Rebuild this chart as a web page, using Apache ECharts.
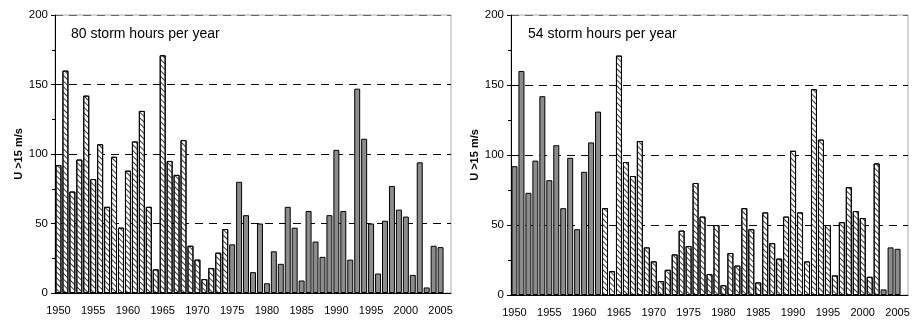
<!DOCTYPE html>
<html>
<head>
<meta charset="utf-8">
<script src="https://cdn.jsdelivr.net/npm/echarts@6/dist/echarts.min.js"></script>
<style>
html,body{margin:0;padding:0;background:#fff;}
#c{width:916px;height:320px;}
</style>
</head>
<body>
<div id="c"></div>
<script>
// Categories (last empty slot as in the original Excel chart)
const years = [1950,1951,1952,1953,1954,1955,1956,1957,1958,1959,
  1960,1961,1962,1963,1964,1965,1966,1967,1968,1969,
  1970,1971,1972,1973,1974,1975,1976,1977,1978,1979,
  1980,1981,1982,1983,1984,1985,1986,1987,1988,1989,
  1990,1991,1992,1993,1994,1995,1996,1997,1998,1999,
  2000,2001,2002,2003,2004,2005,''];
// Hours per year with U > 15 m/s
const stormHours = [92,160,73,96,142,82,107,62,98,47,
  88,109,131,62,17,171,95,85,110,34,
  24,10,18,29,46,35,80,56,15,50,
  7,30,21,62,47,9,59,37,26,56,
  103,59,24,147,111,50,14,52,77,60,
  55,13,94,4,34,33];
// Year ranges drawn hatched in each panel (the rest is solid grey)
const leftHatchedRanges = [[1950,1974]];
const rightHatchedRanges = [[1963,2002]];
const leftLabel = '80 storm hours per year';
const rightLabel = '54 storm hours per year';
const yTicks = [0,50,100,150,200];
const yTitle = 'U >15 m/s';

const FONT = '"Liberation Sans", Arial, sans-serif';
const GREY = '#8c8c8c';

function inRanges(y, ranges){ return ranges.some(r => y >= r[0] && y <= r[1]); }
function split(ranges){
  const h = [], g = [];
  years.forEach((y, i) => {
    if (y === '') { h.push(null); g.push(null); return; }
    const v = stormHours[i];
    if (inRanges(y, ranges)) { h.push(v); g.push(null); } else { h.push(null); g.push(v); }
  });
  return {h, g};
}
const L = split(leftHatchedRanges), R = split(rightHatchedRanges);

const hatchStyle = {
  color: '#fff', borderColor: '#000', borderWidth: 1,
  decal: { symbol: 'rect', symbolSize: 1, color: '#3a3a3a', dashArrayX: [1, 0], dashArrayY: [1, 2.6], rotation: Math.PI/4 }
};
const greyStyle = { color: GREY, borderColor: '#000', borderWidth: 1 };

function xAx(gi){
  return {
    type: 'category', gridIndex: gi, data: years, boundaryGap: true,
    axisLine: { lineStyle: { color: '#000', width: 1 } },
    axisTick: { interval: 4, length: 5, lineStyle: { color: '#000' } },
    axisLabel: { interval: 4, color: '#000', fontSize: 11, fontFamily: FONT, margin: 12 }
  };
}
function yAx(gi){
  return {
    type: 'value', gridIndex: gi, min: yTicks[0], max: yTicks[yTicks.length-1], interval: yTicks[1]-yTicks[0],
    name: yTitle, nameLocation: 'middle', nameGap: 25, nameRotate: 90,
    nameTextStyle: { fontWeight: 'bold', fontSize: 11, fontFamily: FONT, color: '#000' },
    axisLine: { show: true, lineStyle: { color: '#000', width: 1 } },
    axisTick: { show: true, length: 4, lineStyle: { color: '#000' } },
    minorTick: { show: true, splitNumber: 2, length: 3, lineStyle: { color: '#000' } },
    axisLabel: { color: '#000', fontSize: 11.5, fontFamily: FONT, margin: 7 },
    splitLine: { show: true, lineStyle: { color: ['#000','#000','#000','#000','#666'], type: [8,6], width: 1 } }
  };
}
function bar(gi, data, style){
  return { type: 'bar', xAxisIndex: gi, yAxisIndex: gi, data: data, barWidth: '86%', barGap: '-100%',
    itemStyle: style, silent: true, animation: false };
}

const chart = echarts.init(document.getElementById('c'), null, { renderer: 'canvas' });
chart.setOption({
  animation: false,
  backgroundColor: '#fff',
  title: [
    { text: leftLabel, left: 71, top: 27, padding: 0, textStyle: { fontSize: 14, fontWeight: 'normal', color: '#000', fontFamily: FONT } },
    { text: rightLabel, left: 528, top: 27, padding: 0, textStyle: { fontSize: 14, fontWeight: 'normal', color: '#000', fontFamily: FONT } }
  ],
  grid: [
    { left: 55, top: 15, width: 396, bottom: 27, show: true, borderColor: '#aaa', borderWidth: 1, backgroundColor: 'transparent' },
    { left: 511, top: 15, width: 397, bottom: 25, show: true, borderColor: '#aaa', borderWidth: 1, backgroundColor: 'transparent' }
  ],
  xAxis: [xAx(0), xAx(1)],
  yAxis: [yAx(0), yAx(1)],
  series: [
    bar(0, L.h, hatchStyle), bar(0, L.g, greyStyle),
    bar(1, R.h, hatchStyle), bar(1, R.g, greyStyle)
  ]
});
</script>
</body>
</html>
